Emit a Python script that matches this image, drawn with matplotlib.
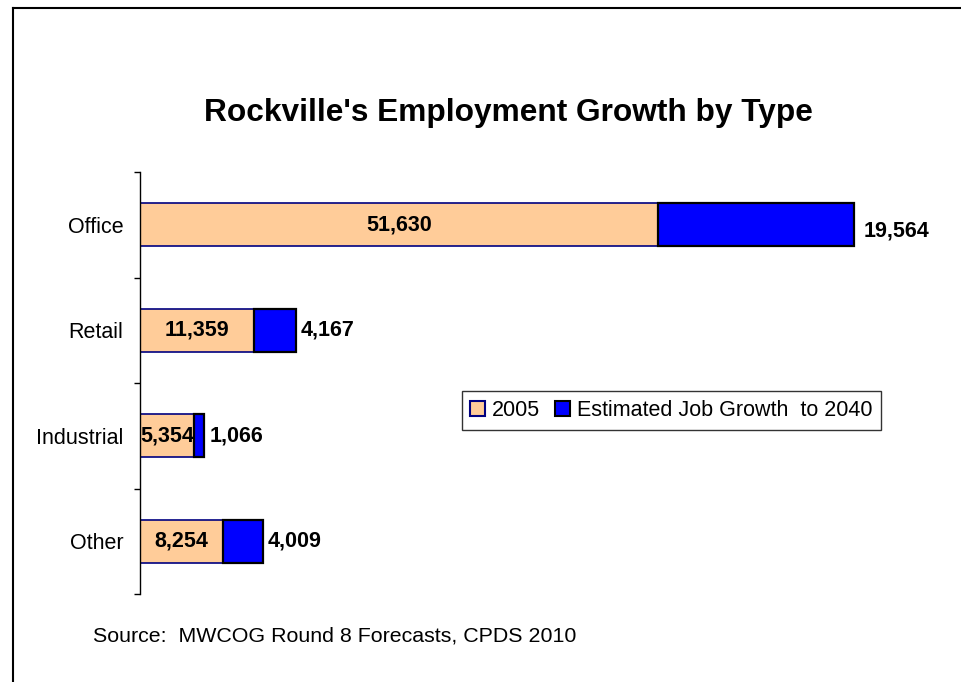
import matplotlib.pyplot as plt
from matplotlib.lines import Line2D
from matplotlib.patches import Patch

plt.rcParams['font.family'] = ['Liberation Sans', 'DejaVu Sans']

categories = ['Office', 'Retail', 'Industrial', 'Other']
jobs_2005 = [51630, 11359, 5354, 8254]
growth_2040 = [19564, 4167, 1066, 4009]

fig = plt.figure(figsize=(9.61, 6.82), dpi=100)
ax = fig.add_axes([0.1457, 0.1290, 0.8345, 0.6188])

ypos = [3, 2, 1, 0]
ax.barh(ypos, jobs_2005, height=0.41, color='#FFCC99', edgecolor='#000080', linewidth=1.2)
ax.barh(ypos, growth_2040, left=jobs_2005, height=0.41, color='#0000FF',
        edgecolor='black', linewidth=1.6)

for y, a, b in zip(ypos, jobs_2005, growth_2040):
    ax.text(a / 2, y, f'{a:,}', ha='center', va='center', fontsize=15.5, fontweight='bold')
    # the office label sits a little lower and further out
    dx, dy = (1000, -0.06) if y == 3 else (500, 0)
    ax.text(a + b + dx, y + dy, f'{b:,}', ha='left', va='center', fontsize=15.5,
            fontweight='bold')

ax.set_xlim(0, 80000)
ax.set_ylim(-0.5, 3.5)
ax.set_yticks(ypos)
ax.set_yticklabels(categories, fontsize=15.5)
ax.set_yticks([-0.5, 0.5, 1.5, 2.5, 3.5], minor=True)
ax.tick_params(axis='y', which='major', length=0, pad=12)
ax.tick_params(axis='y', which='minor', length=4.5, width=1, direction='out')
ax.set_xticks([])
for side in ['top', 'right', 'bottom']:
    ax.spines[side].set_visible(False)
ax.spines['left'].set_linewidth(1)

handles = [Patch(facecolor='#FFCC99', edgecolor='#000080', linewidth=1.5, label='2005'),
           Patch(facecolor='#0000FF', edgecolor='black', linewidth=1.5,
                 label='Estimated Job Growth  to 2040')]
leg = fig.legend(handles=handles, ncol=2, loc='center', bbox_to_anchor=(0.6985, 0.398),
                 fontsize=15.5, frameon=True, fancybox=False, handlelength=0.7,
                 handleheight=0.7, handletextpad=0.3, columnspacing=0.7,
                 borderpad=0.4, borderaxespad=0)
leg.get_frame().set_edgecolor('black')
leg.get_frame().set_linewidth(1)

fig.text(0.5286, 0.835, "Rockville's Employment Growth by Type", ha='center', va='center',
         fontsize=22.8, fontweight='bold')
fig.text(0.0968, 0.0675, 'Source:  MWCOG Round 8 Forecasts, CPDS 2010', ha='left',
         va='center', fontsize=15.4)

# outer frame along the top and left edges
fig.add_artist(Line2D([0.0135, 1.0], [0.9883, 0.9883], color='black', linewidth=1.5))
fig.add_artist(Line2D([0.0135, 0.0135], [0.0, 0.9883], color='black', linewidth=1.5))

fig.savefig('out.png', dpi=100)
